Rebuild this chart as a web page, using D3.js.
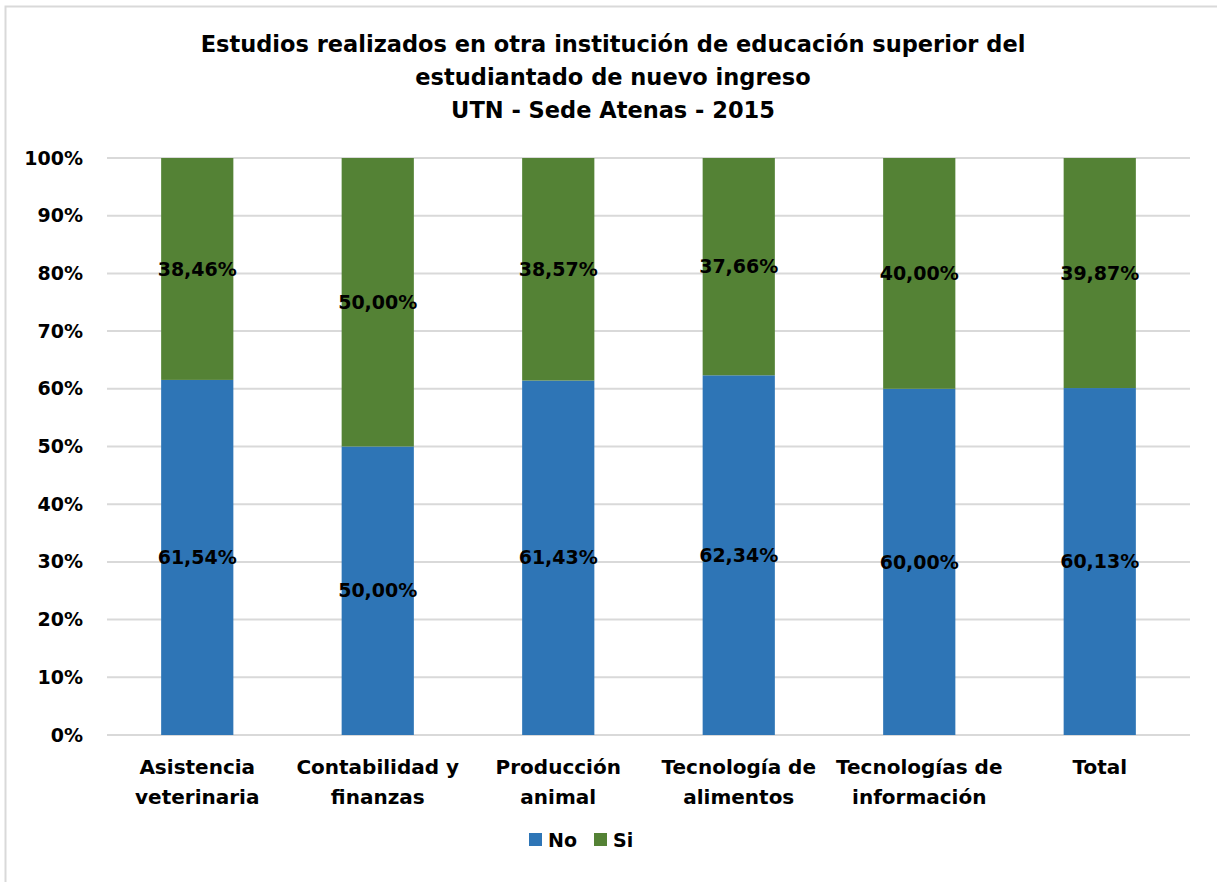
<!DOCTYPE html>
<html>
<head>
<meta charset="utf-8">
<script src="https://cdn.jsdelivr.net/npm/d3@7"></script>
<style>
  body { margin: 0; background: #fff; }
  text { font-family: "DejaVu Sans", sans-serif; font-weight: bold; fill: #000; }
</style>
</head>
<body>
<div id="chart"></div>
<script>
// Data
const categories = [
  ['Asistencia', 'veterinaria'],
  ['Contabilidad y', 'finanzas'],
  ['Producción', 'animal'],
  ['Tecnología de', 'alimentos'],
  ['Tecnologías de', 'información'],
  ['Total']
];
const noValues = [61.54, 50.00, 61.43, 62.34, 60.00, 60.13];
const siValues = [38.46, 50.00, 38.57, 37.66, 40.00, 39.87];
const yTicks = [0, 10, 20, 30, 40, 50, 60, 70, 80, 90, 100];
const titleLines = [
  'Estudios realizados en otra institución de educación superior del',
  'estudiantado de nuevo ingreso',
  'UTN - Sede Atenas - 2015'
];
const seriesNames = ['No', 'Si'];
const colors = { No: '#2E75B6', Si: '#548235' };

const W = 1217, H = 882;
const margin = { top: 158, left: 107, right: 27, bottom: 147 };
const width = W - margin.left - margin.right;
const height = H - margin.top - margin.bottom;

const svg = d3.select('#chart').append('svg')
  .attr('width', W)
  .attr('height', H);

// chart border (only the top and left edges are visible in the crop)
svg.append('rect')
  .attr('x', 5.5).attr('y', 6.5)
  .attr('width', W + 20).attr('height', H + 20)
  .attr('fill', 'none')
  .attr('stroke', '#d9d9d9')
  .attr('stroke-width', 2);

// title
svg.append('g').selectAll('text')
  .data(titleLines)
  .enter().append('text')
  .attr('x', 613)
  .attr('y', (d, i) => 52 + i * 33)
  .attr('text-anchor', 'middle')
  .style('font-size', '22.5px')
  .text(d => d);

const g = svg.append('g')
  .attr('transform', `translate(${margin.left},${margin.top})`);

const x = d3.scaleBand()
  .domain(d3.range(categories.length))
  .range([0, width])
  .paddingInner(0.6)
  .paddingOuter(0.3);

const y = d3.scaleLinear()
  .domain([0, 100])
  .range([height, 0]);

// gridlines
g.append('g')
  .selectAll('line')
  .data(yTicks)
  .enter().append('line')
  .attr('x1', 0).attr('x2', width)
  .attr('y1', d => y(d)).attr('y2', d => y(d))
  .attr('stroke', '#d9d9d9')
  .attr('stroke-width', 2);

// y axis labels
const yAxis = g.append('g')
  .call(d3.axisLeft(y).tickValues(yTicks).tickFormat(d => d + '%').tickSize(0).tickPadding(24));
yAxis.select('.domain').remove();
yAxis.selectAll('text')
  .style('font-size', '19px')
  .style('font-family', '"DejaVu Sans", sans-serif')
  .style('font-weight', 'bold')
  .attr('fill', '#000');

// stacked data
const rows = categories.map((c, i) => ({ i, No: noValues[i], Si: siValues[i] }));
const stacked = d3.stack().keys(seriesNames)(rows);

const layers = g.selectAll('.layer')
  .data(stacked)
  .enter().append('g')
  .attr('class', 'layer')
  .attr('fill', d => colors[d.key]);

layers.selectAll('rect')
  .data(d => d)
  .enter().append('rect')
  .attr('x', d => x(d.data.i))
  .attr('width', x.bandwidth())
  .attr('y', d => y(d[1]))
  .attr('height', d => y(d[0]) - y(d[1]));

// value labels centered in segments
layers.selectAll('.label')
  .data(d => d.map(p => ({ p, key: d.key })))
  .enter().append('text')
  .attr('class', 'label')
  .attr('x', d => x(d.p.data.i) + x.bandwidth() / 2)
  .attr('y', d => y((d.p[0] + d.p[1]) / 2))
  .attr('dy', '0.35em')
  .attr('text-anchor', 'middle')
  .style('font-size', '19px')
  .text(d => d.p.data[d.key].toFixed(2).replace('.', ',') + '%');

// category labels
const cat = g.append('g')
  .attr('transform', `translate(0,${height})`)
  .selectAll('text')
  .data(categories)
  .enter().append('text')
  .attr('text-anchor', 'middle')
  .attr('x', (d, i) => x(i) + x.bandwidth() / 2)
  .attr('y', 39)
  .style('font-size', '20px');

cat.selectAll('tspan')
  .data(d => d)
  .enter().append('tspan')
  .attr('x', function() { return d3.select(this.parentNode).attr('x'); })
  .attr('dy', (d, i) => i === 0 ? 0 : 30)
  .text(d => d);

// legend
const legend = svg.append('g')
  .attr('transform', 'translate(529,840)');

const legendItems = legend.selectAll('g')
  .data(seriesNames)
  .enter().append('g')
  .attr('transform', (d, i) => `translate(${i * 65},0)`);

legendItems.append('rect')
  .attr('x', 0).attr('y', -7)
  .attr('width', 13).attr('height', 13)
  .attr('fill', d => colors[d]);

legendItems.append('text')
  .attr('x', 19)
  .attr('y', 0)
  .attr('dy', '0.35em')
  .style('font-size', '19px')
  .text(d => d);
</script>
</body>
</html>
